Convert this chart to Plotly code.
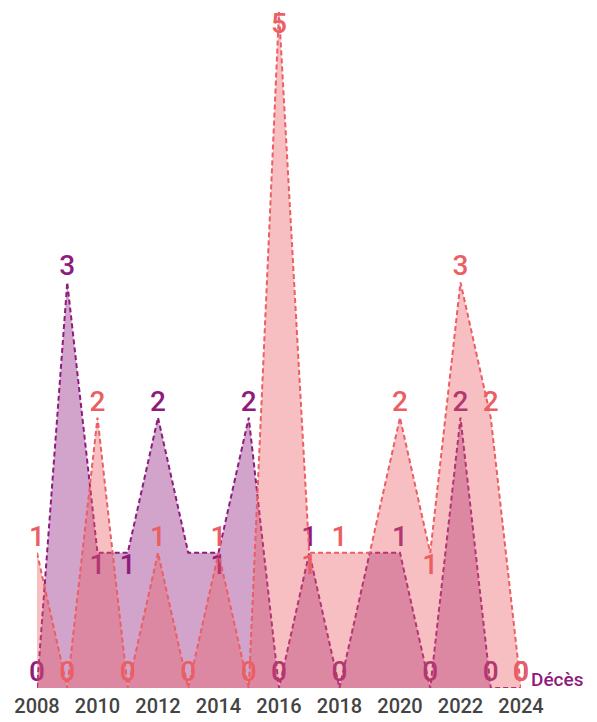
import plotly.graph_objects as go

years = list(range(2008, 2025))
serie_rose = [1, 0, 2, 0, 1, 0, 1, 0, 5, 1, 1, 1, 2, 1, 3, 2, 0]
serie_violet = [0, 3, 1, 1, 2, 1, 1, 2, 0, 1, 0, 1, 1, 0, 2, 0, 0]
# label visibility/placement (style)
rose_show = [1, 1, 1, 1, 1, 1, 1, 1, 1, 1, 1, 0, 1, 1, 1, 1, 1]
rose_pos = ["top center"] * 17
rose_pos[8] = "bottom center"
rose_pos[9] = "bottom center"
rose_pos[13] = "bottom center"
violet_show = [1, 1, 1, 1, 1, 0, 1, 1, 1, 1, 1, 0, 1, 1, 1, 1, 1]
violet_pos = ["top center"] * 17
violet_pos[2] = "bottom center"
violet_pos[3] = "bottom center"
violet_pos[6] = "bottom center"
tick_years = list(range(2008, 2025, 2))
serie_name = "Décès"

PURPLE = "#8e1c7c"
PINK = "#eb5e63"
FONT = "Roboto, sans-serif"

fig = go.Figure()
fig.add_trace(go.Scatter(
    x=years, y=serie_violet, mode="lines+text", fill="tozeroy",
    fillcolor="rgba(142,28,124,0.4)",
    line=dict(color=PURPLE, width=2, dash="5px,3px"),
    text=[str(v) if s else "" for v, s in zip(serie_violet, violet_show)],
    textposition=violet_pos,
    textfont=dict(family=FONT, size=28, color=PURPLE, weight=500),
    cliponaxis=False, name=serie_name,
))
fig.add_trace(go.Scatter(
    x=years, y=serie_rose, mode="lines+text", fill="tozeroy",
    fillcolor="rgba(235,94,99,0.4)",
    line=dict(color=PINK, width=2, dash="5px,3px"),
    text=[str(v) if s else "" for v, s in zip(serie_rose, rose_show)],
    textposition=rose_pos,
    textfont=dict(family=FONT, size=28, color=PINK, weight=500),
    cliponaxis=False,
))
fig.add_annotation(x=2024, y=0, xref="x", yref="y", text=serie_name,
                   showarrow=False, xanchor="left", yanchor="middle",
                   xshift=8, yshift=9,
                   font=dict(family=FONT, size=19, color=PURPLE, weight=500))
fig.update_layout(
    width=589, height=714, showlegend=False,
    plot_bgcolor="white", paper_bgcolor="white",
    margin=dict(l=29, r=76, t=4, b=34),
    xaxis=dict(range=[2008, 2024], tickvals=tick_years,
               ticktext=[str(t) for t in tick_years],
               showgrid=False, zeroline=False, showline=False,
               tickfont=dict(family=FONT, size=20, color="#444444", weight=500),
               ticks="", ticklabelstandoff=4, automargin=False),
    yaxis=dict(range=[0, 5], visible=False, showgrid=False, zeroline=False,
               automargin=False),
)
fig.write_html("out.html")
